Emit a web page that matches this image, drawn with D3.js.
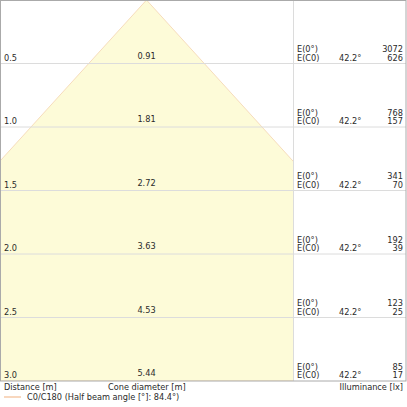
<!DOCTYPE html>
<html>
<head>
<meta charset="utf-8">
<script src="https://cdn.jsdelivr.net/npm/d3@7"></script>
<style>
body { margin: 0; background: #fff; }
text { font-family: "DejaVu Sans", sans-serif; font-size: 8.2px; fill: #2a2a2a; }
</style>
</head>
<body>
<svg id="chart"></svg>
<script>
const width = 407;
const height = 407;

// data
const distances = [0.5, 1.0, 1.5, 2.0, 2.5, 3.0];
const diameters = [0.91, 1.81, 2.72, 3.63, 4.53, 5.44];
const eCenter = [3072, 768, 341, 192, 123, 85];
const eC0 = [626, 157, 70, 39, 25, 17];
const halfAngle = 42.2;
const beamLabel = 'C0/C180 (Half beam angle [°]: 84.4°)';

// layout
const plotW = 406, plotH = 381, coneW = 293;

const svg = d3.select('#chart')
	.attr('width', width)
	.attr('height', height);

const x = d3.scaleLinear().domain([-1.15, 1.15]).range([0, coneW]);
const y = d3.scaleLinear().domain([0, 3]).range([0, plotH]);

// clip the cone to the left part
svg.append('clipPath').attr('id', 'coneClip')
	.append('rect').attr('x', 0).attr('y', 0).attr('width', coneW).attr('height', plotH);

const last = distances.length - 1;
const half = diameters[last] / 2;
svg.append('path')
	.attr('clip-path', 'url(#coneClip)')
	.attr('d', d3.line()([[x(-half), y(distances[last])], [x(0), y(0)], [x(half), y(distances[last])]]) + 'Z')
	.attr('fill', '#fdfbd8')
	.attr('stroke', '#f6dcbc')
	.attr('stroke-width', 1);

// grid lines
svg.append('g')
	.selectAll('line')
	.data(distances.slice(0, -1))
	.join('line')
	.attr('x1', 0).attr('x2', plotW)
	.attr('y1', d => y(d)).attr('y2', d => y(d))
	.attr('stroke', '#dcdcdc')
	.attr('stroke-width', 1);

svg.append('line')
	.attr('x1', coneW + 0.5).attr('x2', coneW + 0.5)
	.attr('y1', 0).attr('y2', plotH)
	.attr('stroke', '#dcdcdc');

// border
svg.append('rect')
	.attr('x', 0.5).attr('y', 0.5)
	.attr('width', plotW - 0.5).attr('height', plotH - 0.5)
	.attr('fill', 'none')
	.attr('stroke', '#aaaaaa');

// row labels
const rows = svg.append('g')
	.selectAll('g')
	.data(distances)
	.join('g')
	.attr('transform', d => `translate(0,${y(d)})`);

rows.append('text').attr('x', 4).attr('y', -3).text(d => d.toFixed(1));
rows.append('text').attr('x', x(0)).attr('y', -5).attr('text-anchor', 'middle')
	.text((d, i) => diameters[i].toFixed(2));
rows.append('text').attr('x', 297).attr('y', -11.5).text('E(0°)');
rows.append('text').attr('x', 297).attr('y', -3).text('E(C0)');
rows.append('text').attr('x', 339).attr('y', -3).text(halfAngle.toFixed(1) + '°');
rows.append('text').attr('x', 403).attr('y', -11.5).attr('text-anchor', 'end')
	.text((d, i) => eCenter[i]);
rows.append('text').attr('x', 403).attr('y', -3).attr('text-anchor', 'end')
	.text((d, i) => eC0[i]);

// axis titles
svg.append('text').attr('x', 4).attr('y', 390).text('Distance [m]');
svg.append('text').attr('x', 108).attr('y', 390).text('Cone diameter [m]');
svg.append('text').attr('x', 403).attr('y', 390).attr('text-anchor', 'end').text('Illuminance [lx]');

// legend
svg.append('line')
	.attr('x1', 4).attr('x2', 21)
	.attr('y1', 397).attr('y2', 397)
	.attr('stroke', '#f6caa8')
	.attr('stroke-width', 1.5);
svg.append('text').attr('x', 27).attr('y', 400).text(beamLabel);
</script>
</body>
</html>
